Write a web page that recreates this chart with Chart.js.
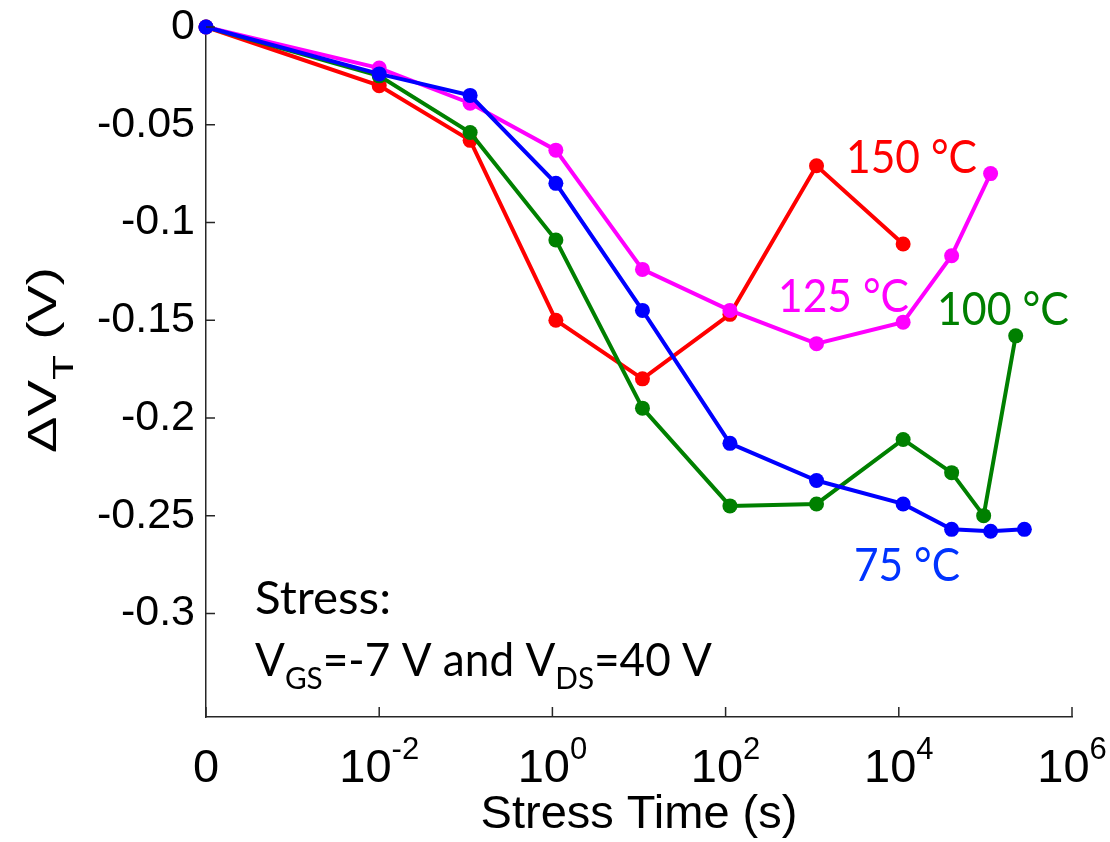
<!DOCTYPE html>
<html>
<head>
<meta charset="utf-8">
<script src="https://cdn.jsdelivr.net/npm/chart.js@4.4.1/dist/chart.umd.min.js"></script>
<style>
html,body{margin:0;padding:0;background:#ffffff;}
#wrap{width:1110px;height:842px;}
</style>
</head>
<body>
<div id="wrap"><canvas id="c" width="1110" height="842"></canvas></div>
<script>
// ---- axis ticks (x axis is log10 of stress time; leftmost position shows t = 0) ----
const xTickValues = [-4, -2, 0, 2, 4, 6];
const xTickBase = ['0', '10', '10', '10', '10', '10'];
const xTickSup = ['', '-2', '0', '2', '4', '6'];
const yTickValues = [0, -0.05, -0.1, -0.15, -0.2, -0.25, -0.3];

// ---- series: log10(stress time in s) and threshold-voltage shift (V) ----
const seriesLabels = ['75 °C', '125 °C', '100 °C', '150 °C'];
const seriesColors = ['#0000ff', '#ff00ff', '#008000', '#ff0000'];

const logTime75 = [-4, -2, -0.95, 0.04, 1.04, 2.05, 3.05, 4.05, 4.61, 5.06, 5.45];
const dVt75 = [0, -0.024, -0.035, -0.080, -0.145, -0.213, -0.232, -0.244, -0.257, -0.258, -0.257];

const logTime125 = [-4, -2, -0.95, 0.04, 1.04, 2.05, 3.05, 4.05, 4.61, 5.06];
const dVt125 = [0, -0.021, -0.039, -0.063, -0.124, -0.145, -0.162, -0.151, -0.117, -0.075];

const logTime100 = [-4, -2, -0.95, 0.04, 1.04, 2.05, 3.05, 4.05, 4.61, 4.98, 5.35];
const dVt100 = [0, -0.025, -0.054, -0.109, -0.195, -0.245, -0.244, -0.211, -0.228, -0.250, -0.158];

const logTime150 = [-4, -2, -0.95, 0.04, 1.04, 2.05, 3.05, 4.05];
const dVt150 = [0, -0.030, -0.058, -0.150, -0.180, -0.147, -0.071, -0.111];

const axisColor = '#262626';

function pts(xs, ys) { return xs.map((x, i) => ({x: x, y: ys[i]})); }

function drawRich(ctx, parts, x, y, family, color, align, targetWidth) {
  let natural = 0;
  const widths = parts.map(p => {
    ctx.font = 'normal ' + p.size + 'px ' + family;
    const w = ctx.measureText(p.t).width;
    natural += w;
    return w;
  });
  const sc = targetWidth ? targetWidth / natural : 1;
  ctx.save();
  ctx.translate(x, y);
  ctx.scale(sc, 1);
  ctx.fillStyle = color;
  ctx.textBaseline = 'alphabetic';
  ctx.textAlign = 'left';
  let cx = align === 'center' ? -natural / 2 : 0;
  parts.forEach((p, i) => {
    ctx.font = 'normal ' + p.size + 'px ' + family;
    ctx.fillText(p.t, cx, p.dy || 0);
    cx += widths[i];
  });
  ctx.restore();
}

const overlay = {
  id: 'overlay',
  afterDraw(chart) {
    const ctx = chart.ctx, xs = chart.scales.x, ys = chart.scales.y, a = chart.chartArea;
    ctx.save();
    // inward tick marks
    ctx.strokeStyle = axisColor;
    ctx.lineWidth = 1.5;
    ctx.beginPath();
    yTickValues.forEach(v => {
      const p = ys.getPixelForValue(v);
      ctx.moveTo(a.left, p); ctx.lineTo(a.left + 9, p);
    });
    xTickValues.forEach(v => {
      const p = xs.getPixelForValue(v);
      ctx.moveTo(p, a.bottom); ctx.lineTo(p, a.bottom - 10);
    });
    ctx.stroke();

    // x tick labels with superscripts
    const sans = '"Liberation Sans", Arial, sans-serif';
    xTickValues.forEach((v, i) => {
      const p = xs.getPixelForValue(v);
      const parts = [{t: xTickBase[i], size: 47}];
      if (xTickSup[i]) parts.push({t: xTickSup[i], size: 31, dy: -23});
      drawRich(ctx, parts, p, a.bottom + 65, sans, '#000', 'center');
    });

    // axis titles
    drawRich(ctx, [{t: 'Stress Time (s)', size: 47}], (a.left + a.right) / 2, a.bottom + 111, sans, '#000', 'center');
    ctx.save();
    ctx.translate(56, 360);
    ctx.rotate(-Math.PI / 2);
    drawRich(ctx, [{t: 'ΔV', size: 40}, {t: 'T', size: 30, dy: 17}, {t: ' (V)', size: 40}], 0, 0, sans, '#000', 'center', 186);
    ctx.restore();

    // annotations
    const lato = 'Lato, "Open Sans", sans-serif';
    drawRich(ctx, [{t: '150 °C', size: 46}], 846, 173, lato, '#ff0000', 'left', 131);
    drawRich(ctx, [{t: '125 °C', size: 46}], 778, 312, lato, '#ff00ff', 'left', 131);
    drawRich(ctx, [{t: '100 °C', size: 46}], 937, 325, lato, '#008000', 'left', 132);
    drawRich(ctx, [{t: '75 °C', size: 46}], 854, 581, lato, '#0033ff', 'left', 106);
    drawRich(ctx, [{t: 'Stress:', size: 46}], 255, 614, lato, '#000', 'left', 136);
    drawRich(ctx, [
      {t: 'V', size: 46}, {t: 'GS', size: 31, dy: 13},
      {t: '=-7 V and V', size: 46}, {t: 'DS', size: 31, dy: 13},
      {t: '=40 V', size: 46}
    ], 255, 676, lato, '#000', 'left', 457);
    ctx.restore();
  }
};

const xData = [logTime75, logTime125, logTime100, logTime150];
const yData = [dVt75, dVt125, dVt100, dVt150];

new Chart(document.getElementById('c'), {
  type: 'scatter',
  data: {
    datasets: seriesLabels.map((lab, i) => ({
      label: lab,
      data: pts(xData[i], yData[i]),
      showLine: true,
      borderColor: seriesColors[i],
      backgroundColor: seriesColors[i],
      pointBackgroundColor: seriesColors[i],
      pointBorderColor: seriesColors[i],
      borderWidth: 4,
      pointRadius: 7.5,
      pointHoverRadius: 7.5,
      pointBorderWidth: 0,
      tension: 0,
      clip: false
    }))
  },
  options: {
    responsive: false,
    animation: false,
    devicePixelRatio: 1,
    events: [],
    layout: {padding: {top: 27, right: 38, left: 0, bottom: 0}},
    plugins: {legend: {display: false}, tooltip: {enabled: false}, title: {display: false}},
    scales: {
      x: {
        type: 'linear', min: -4, max: 6,
        grid: {display: false, drawTicks: false},
        border: {display: true, color: axisColor, width: 1.5},
        ticks: {display: false},
        afterFit: s => { s.height = 125; s.paddingLeft = 0; s.paddingRight = 0; }
      },
      y: {
        type: 'linear', min: -0.353, max: 0,
        grid: {display: false, drawTicks: false},
        border: {display: true, color: axisColor, width: 1.5},
        ticks: {
          font: {family: '"Liberation Sans", Arial, sans-serif', size: 43},
          color: '#000',
          padding: 11,
          callback: v => String(v)
        },
        afterBuildTicks: s => { s.ticks = yTickValues.map(v => ({value: v})); },
        afterFit: s => { s.width = 206; s.paddingTop = 0; s.paddingBottom = 0; }
      }
    }
  },
  plugins: [overlay]
});
</script>
</body>
</html>
